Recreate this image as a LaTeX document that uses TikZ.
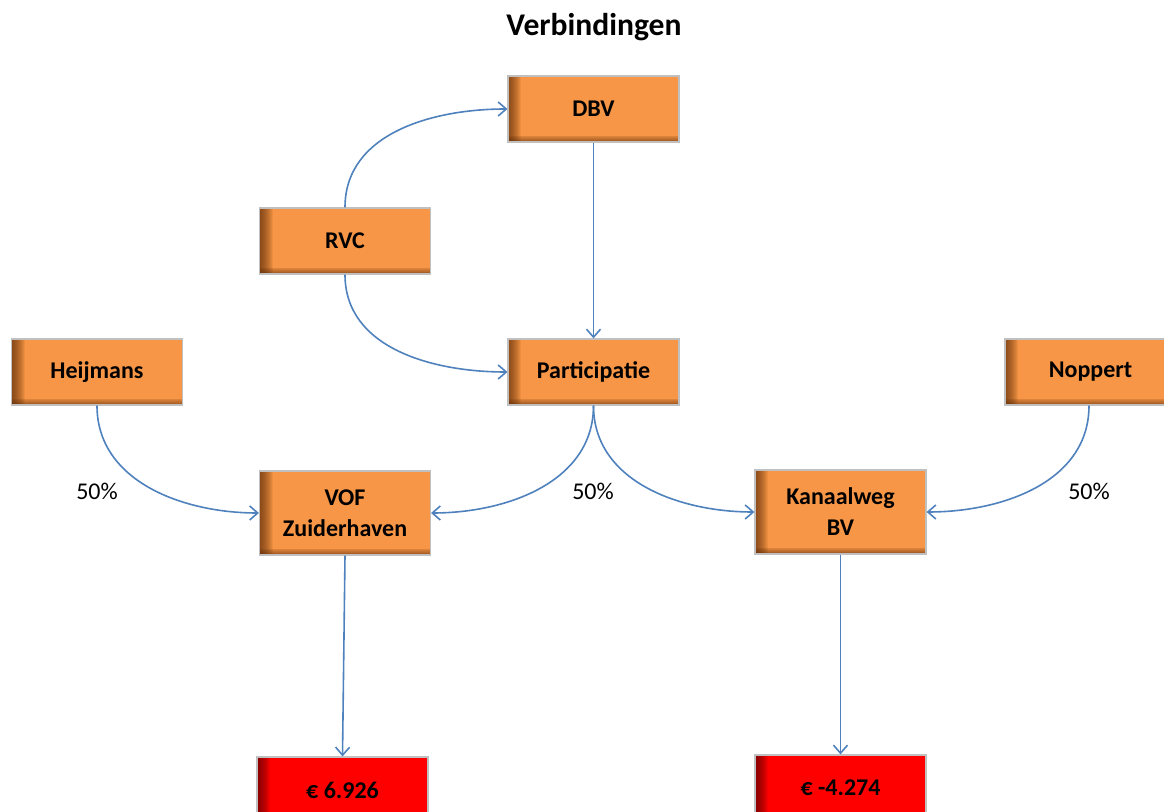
\documentclass[tikz,border=0pt]{standalone}
\usepackage{fontspec}
\setmainfont{Carlito}
\usetikzlibrary{arrows.meta}
\definecolor{boxorange}{HTML}{F79646}
\definecolor{boxbrown}{HTML}{5A2A08}
\definecolor{boxred}{HTML}{FF0000}
\definecolor{boxdarkred}{HTML}{500000}
\definecolor{linkblue}{HTML}{4F81BD}
\definecolor{rimgray}{HTML}{C0C0C0}
\tikzset{
  card/.style={draw=rimgray, line width=0.6pt, minimum width=85.5pt,
    minimum height=33pt, inner sep=0pt, align=center, font=\bfseries\fontsize{12}{14}\selectfont},
  orangecard/.style={card, fill=boxorange, path picture={
      \foreach \h in {0.4,0.8,...,3.6}
        \fill[boxbrown, opacity=0.09] (path picture bounding box.south west)
          rectangle ([yshift=\h pt]path picture bounding box.south east);
      \foreach \w in {0.5,1,...,6.5}
        \fill[boxbrown, opacity=0.08] (path picture bounding box.south west)
          rectangle ([xshift=\w pt]path picture bounding box.north west);}},
  redcard/.style={card, fill=boxred, path picture={
      \foreach \w in {0.5,1,...,6.5}
        \fill[boxdarkred, opacity=0.08] (path picture bounding box.south west)
          rectangle ([xshift=\w pt]path picture bounding box.north west);}},
  link/.style={draw=linkblue, line width=0.8pt, -{Straight Barb[length=4pt,width=7pt]}},
  share/.style={font=\fontsize{12}{14}\selectfont}
}
\begin{document}
\begin{tikzpicture}[x=0.5pt, y=-0.5pt]
  \useasboundingbox (0,0) rectangle (1164,812);
  \clip (0,0) rectangle (1164,812);

  \node[font=\bfseries\fontsize{15.8}{19}\selectfont] (title) at (594,27) {Verbindingen};

  \node[orangecard] (dbv) at (593.5,109) {DBV};
  \node[orangecard] (rvc) at (345,241) {RVC};
  \node[orangecard] (part) at (593.5,372) {Participatie};
  \node[orangecard] (heij) at (97,372) {Heijmans};
  \node[orangecard] (nopp) at (1090.5,372) {Noppert};
  \node[orangecard, minimum height=42pt] (vof) at (345,513) {VOF\\[1.5pt]Zuiderhaven};
  \node[orangecard, minimum height=42pt] (kan) at (840.5,512) {Kanaalweg\\[1.5pt]BV};
  \node[redcard] (eur1) at (342.5,790) {€ 6.926};
  \node[redcard] (eur2) at (840.5,788) {€ -4.274};

  \node[share] (p1) at (97,491) {50\%};
  \node[share] (p2) at (593,491) {50\%};
  \node[share] (p3) at (1089,491) {50\%};

  \draw[link] (rvc.north) to[out=90, in=180] (dbv.west);
  \draw[link] (rvc.south) to[out=-90, in=180] (part.west);
  \draw[link] (dbv.south) -- (part.north);
  \draw[link] (heij.south) to[out=-90, in=180] (vof.west);
  \draw[link] (part.south) to[out=-90, in=0] (vof.east);
  \draw[link] (part.south) to[out=-90, in=180] (kan.west);
  \draw[link] ([xshift=-0.75pt]nopp.south) to[out=-90, in=0] (kan.east);
  \draw[link] (vof.south) -- (eur1.north);
  \draw[link] (kan.south) -- (eur2.north);
\end{tikzpicture}
\end{document}
